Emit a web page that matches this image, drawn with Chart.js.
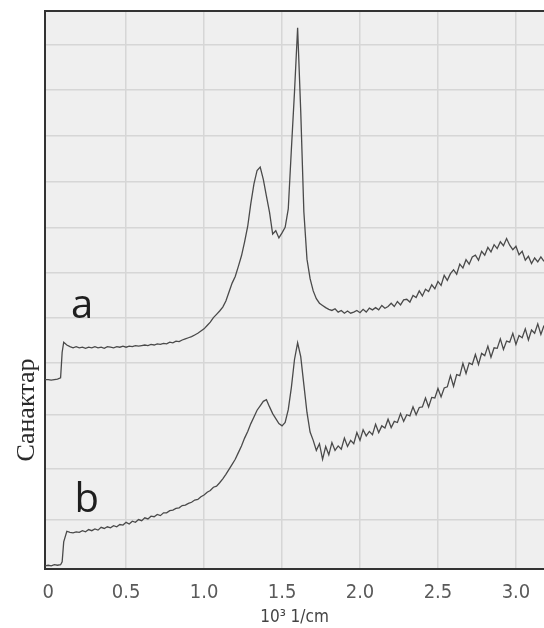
<!DOCTYPE html>
<html>
<head>
<meta charset="utf-8">
<script src="https://cdn.jsdelivr.net/npm/chart.js@4.4.1/dist/chart.umd.min.js"></script>
<style>
  body { margin: 0; background: #fff; }
  #chart1 { display: block; }
</style>
</head>
<body>
<canvas id="chart1" width="544" height="628"></canvas>
<script>
// wavenumber, 10^3 1/cm
const xs = [-0.02, 0.00, 0.02, 0.04, 0.06, 0.08, 0.09,
  0.10, 0.12, 0.14, 0.16, 0.18, 0.20, 0.22, 0.24, 0.26, 0.28,
  0.30, 0.32, 0.34, 0.36, 0.38, 0.40, 0.42, 0.44, 0.46, 0.48,
  0.50, 0.52, 0.54, 0.56, 0.58, 0.60, 0.62, 0.64, 0.66, 0.68,
  0.70, 0.72, 0.74, 0.76, 0.78, 0.80, 0.82, 0.84, 0.86, 0.88,
  0.90, 0.92, 0.94, 0.96, 0.98, 1.00, 1.02, 1.04, 1.06, 1.08,
  1.10, 1.12, 1.14, 1.16, 1.18, 1.20, 1.22, 1.24, 1.26, 1.28,
  1.30, 1.32, 1.34, 1.36, 1.38, 1.40, 1.42, 1.44, 1.46, 1.48,
  1.50, 1.52, 1.54, 1.56, 1.58, 1.60, 1.62, 1.64, 1.66, 1.68,
  1.70, 1.72, 1.74, 1.76, 1.78, 1.80, 1.82, 1.84, 1.86, 1.88,
  1.90, 1.92, 1.94, 1.96, 1.98, 2.00, 2.02, 2.04, 2.06, 2.08,
  2.10, 2.12, 2.14, 2.16, 2.18, 2.20, 2.22, 2.24, 2.26, 2.28,
  2.30, 2.32, 2.34, 2.36, 2.38, 2.40, 2.42, 2.44, 2.46, 2.48,
  2.50, 2.52, 2.54, 2.56, 2.58, 2.60, 2.62, 2.64, 2.66, 2.68,
  2.70, 2.72, 2.74, 2.76, 2.78, 2.80, 2.82, 2.84, 2.86, 2.88,
  2.90, 2.92, 2.94, 2.96, 2.98, 3.00, 3.02, 3.04, 3.06, 3.08,
  3.10, 3.12, 3.14, 3.16, 3.18];

// spectrum a (upper trace)
const countsA = [33.9, 33.9, 33.8, 33.9, 34.0, 34.2, 38.8,
  40.6, 40.1, 39.8, 39.6, 39.8, 39.6, 39.7, 39.5, 39.7, 39.6,
  39.8, 39.6, 39.7, 39.5, 39.8, 39.7, 39.6, 39.8, 39.7, 39.9,
  39.7, 39.9, 39.8, 40.0, 39.9, 40.0, 40.1, 40.0, 40.2, 40.1,
  40.3, 40.2, 40.4, 40.3, 40.6, 40.5, 40.8, 40.7, 41.0, 41.2,
  41.4, 41.6, 41.9, 42.2, 42.6, 43.0, 43.6, 44.2, 45.0, 45.6,
  46.2, 46.9, 48.0, 49.6, 51.2, 52.4, 54.2, 56.1, 58.6, 61.4,
  65.5, 69.0, 71.4, 72.0, 69.8, 66.8, 63.9, 60.0, 60.6, 59.3,
  60.2, 61.2, 64.5, 75.2, 85.5, 97.0, 82.0, 64.0, 55.5, 52.0,
  49.8, 48.4, 47.6, 47.2, 46.8, 46.5, 46.3, 46.6, 46.0, 46.3,
  45.8, 46.2, 45.8, 46.0, 46.3, 45.9, 46.5, 46.0, 46.7, 46.4,
  46.8, 46.4, 47.2, 46.7, 47.0, 47.6, 47.0, 47.9, 47.3, 48.2,
  48.3, 47.8, 49.0, 48.6, 49.8, 48.9, 50.1, 49.7, 50.9, 50.2,
  51.5, 50.8, 52.6, 51.7, 52.9, 53.6, 52.8, 54.6, 53.9, 55.4,
  54.6, 55.9, 56.2, 55.3, 56.9, 56.2, 57.6, 56.8, 58.1, 57.4,
  58.6, 57.9, 59.2, 58.0, 57.2, 57.8, 56.3, 56.9, 55.3, 56.0,
  54.7, 55.7, 55.0, 55.9, 55.1];

// spectrum b (lower trace)
const countsB = [0.5, 0.6, 0.5, 0.7, 0.6, 0.7, 1.2,
  4.8, 6.7, 6.5, 6.4, 6.6, 6.5, 6.8, 6.6, 7.0, 6.8,
  7.1, 6.9, 7.4, 7.2, 7.5, 7.3, 7.7, 7.5, 7.9, 7.8,
  8.3, 8.0, 8.5, 8.3, 8.8, 8.6, 9.1, 8.9, 9.4, 9.3,
  9.7, 9.5, 10.0, 10.0, 10.4, 10.5, 10.8, 10.9, 11.3, 11.4,
  11.7, 11.9, 12.3, 12.4, 12.9, 13.2, 13.7, 14.0, 14.6, 14.8,
  15.4, 16.1, 16.9, 17.8, 18.7, 19.6, 20.8, 22.0, 23.4, 24.6,
  26.0, 27.2, 28.4, 29.2, 30.0, 30.3, 29.0, 27.8, 26.9, 26.0,
  25.6, 26.2, 28.5, 32.5, 37.5, 40.5, 38.0, 33.0, 28.0, 24.5,
  23.0, 21.2, 22.4, 19.6, 21.9, 20.4, 22.6, 21.2, 22.0, 21.4,
  23.4, 21.9, 23.0, 22.4, 24.4, 23.0, 24.9, 23.8, 24.6, 24.0,
  25.9, 24.4, 25.6, 25.2, 26.8, 25.3, 26.4, 26.2, 27.8, 26.4,
  27.6, 27.4, 29.0, 27.6, 28.9, 29.0, 30.6, 29.0, 30.7, 30.6,
  32.3, 30.8, 32.4, 32.6, 34.6, 32.7, 34.8, 34.6, 36.8, 35.0,
  36.9, 36.6, 38.4, 36.6, 38.6, 38.2, 39.9, 37.9, 39.6, 39.5,
  41.2, 39.3, 40.8, 40.6, 42.2, 40.2, 41.8, 41.4, 43.0, 41.0,
  42.8, 42.2, 43.9, 42.0, 43.6];

const xTicks = [0, 0.5, 1.0, 1.5, 2.0, 2.5, 3.0];
const yGrid = [8.8, 17.9, 27.6, 37.0, 45.0, 53.1, 61.2, 69.4, 77.6, 85.8, 94.0];

const traceNames = ["a", "b"];
const traceLabelAt = [[0.218, 45.0], [0.247, 10.2]];
const yTitle = "Санактар";
const xTitle = "10³ 1/cm";

const narrowFont = '"Liberation Sans Narrow", "DejaVu Sans Condensed", Arial, sans-serif';

function toPoints(xv, yv){
    return xv.map(function(x, i){ return {x: x, y: yv[i]}; });
}

const gridColor = function(ctx){
    if (ctx.tick && ctx.tick.value === 0) return 'rgba(0,0,0,0)';
    return '#d6d6d6';
};

const plotDeco = {
    id: 'plotDeco',
    beforeDraw: function(chart){
	const c = chart.ctx, a = chart.chartArea;
	c.save();
	c.fillStyle = '#ffffff';
	c.fillRect(0, 0, chart.width, chart.height);
	c.fillStyle = '#efefef';
	c.fillRect(a.left, a.top, a.right - a.left, a.bottom - a.top);
	c.restore();
    },
    afterDraw: function(chart){
	const c = chart.ctx, a = chart.chartArea;
	const sx = chart.scales.x, sy = chart.scales.y;
	c.save();
	// top frame line
	c.strokeStyle = '#333';
	c.lineWidth = 2;
	c.beginPath();
	c.moveTo(a.left, a.top);
	c.lineTo(a.right, a.top);
	c.stroke();
	// trace letters
	c.fillStyle = '#1e1e1e';
	c.font = '40px "Open Sans", sans-serif';
	c.textAlign = 'center';
	c.textBaseline = 'alphabetic';
	traceNames.forEach(function(n, i){
	    c.fillText(n, sx.getPixelForValue(traceLabelAt[i][0]), sy.getPixelForValue(traceLabelAt[i][1]));
	});
	// y title
	c.translate(27, 410);
	c.rotate(-Math.PI / 2);
	c.font = '26px "Liberation Serif", serif';
	c.textBaseline = 'middle';
	c.fillStyle = '#2a2a2a';
	c.fillText(yTitle, 0, 0);
	c.restore();
    }
};

new Chart(document.getElementById("chart1"), {
    type: 'line',
    data: {
	datasets: [{
	    label: "a",
	    data: toPoints(xs, countsA),
	    borderColor: '#4a4a4a',
	    borderWidth: 1.3,
	    pointRadius: 0,
	    tension: 0
	},{
	    label: "b",
	    data: toPoints(xs, countsB),
	    borderColor: '#4a4a4a',
	    borderWidth: 1.3,
	    pointRadius: 0,
	    tension: 0
	}]
    },
    options: {
	responsive: false,
	animation: false,
	layout: { padding: { left: 45, top: 11, right: -6, bottom: 0 } },
	plugins: { legend: { display: false }, tooltip: { enabled: false } },
	scales: {
	    x: {
		type: 'linear',
		min: -0.02,
		max: 3.18,
		afterBuildTicks: function(axis){
		    axis.ticks = xTicks.map(function(v){ return {value: v}; });
		},
		ticks: {
		    autoSkip: false,
		    maxRotation: 0,
		    padding: 12,
		    color: '#5a5a5a',
		    font: { family: narrowFont, size: 20 },
		    callback: function(v){ return v === 0 ? '0' : v.toFixed(1); }
		},
		grid: { color: gridColor, lineWidth: 1.5, drawTicks: false },
		border: { color: '#333', width: 2 },
		title: {
		    display: true,
		    text: xTitle,
		    color: '#444',
		    padding: { top: -9, bottom: 0 },
		    font: { family: narrowFont, size: 17 }
		}
	    },
	    y: {
		min: 0,
		max: 100,
		afterBuildTicks: function(axis){
		    axis.ticks = yGrid.map(function(v){ return {value: v}; });
		},
		ticks: { display: false },
		grid: { color: '#d6d6d6', lineWidth: 1.5, drawTicks: false },
		border: { color: '#333', width: 2 }
	    }
	}
    },
    plugins: [plotDeco]
});
</script>
</body>
</html>
